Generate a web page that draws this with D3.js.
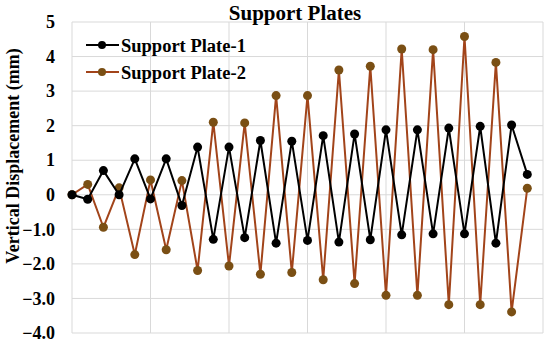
<!DOCTYPE html>
<html>
<head>
<meta charset="utf-8">
<script src="https://cdn.jsdelivr.net/npm/d3@7/dist/d3.min.js"></script>
<style>
  html, body { margin: 0; padding: 0; background: #fff; }
  svg { display: block; }
</style>
</head>
<body>
<svg id="chart" width="550" height="345"></svg>
<script>
// ---- data ----
const steps = d3.range(0, 30); // loading step index
const plate1 = [0, -0.13, 0.70, 0.0, 1.04, -0.12, 1.04, -0.31, 1.38, -1.29,
                1.38, -1.24, 1.57, -1.40, 1.55, -1.32, 1.71, -1.37, 1.76, -1.30,
                1.88, -1.16, 1.88, -1.13, 1.93, -1.13, 1.98, -1.40, 2.02, 0.59];
const plate2 = [0, 0.30, -0.94, 0.20, -1.73, 0.43, -1.59, 0.41, -2.19, 2.10,
                -2.06, 2.08, -2.30, 2.87, -2.25, 2.87, -2.46, 3.61, -2.57, 3.72,
                -2.91, 4.22, -2.91, 4.20, -3.18, 4.58, -3.18, 3.83, -3.39, 0.19];
const yTicks = [5, 4, 3, 2, 1, 0, -1, -2, -3, -4];
const yTickLabels = ["5", "4", "3", "2", "1", "0", "\u22121.0", "\u22122.0", "\u22123.0", "\u22124.0"];
const xGrid = [0, 5, 10, 15, 20, 25, 30];
const seriesNames = ["Support Plate-1", "Support Plate-2"];
const title = "Support Plates";
const yTitle = "Vertical Displacement (mm)";

const FONT = "'Liberation Serif', 'Times New Roman', Times, serif";

// ---- layout ----
const svg = d3.select("#chart");
const L = 72, R = 543, T = 22, B = 333;
const x = d3.scaleLinear().domain([0, 30]).range([L, R]);
const y = d3.scaleLinear().domain([-4, 5]).range([B, T]);

// grid
const grid = svg.append("g");
grid.selectAll("line.h").data(yTicks).join("line")
  .attr("x1", L).attr("x2", R)
  .attr("y1", d => y(d)).attr("y2", d => y(d))
  .attr("stroke", "#d9d9d9").attr("stroke-width", 1);
grid.selectAll("line.v").data(xGrid).join("line")
  .attr("y1", T).attr("y2", B)
  .attr("x1", d => x(d)).attr("x2", d => x(d))
  .attr("stroke", "#d9d9d9").attr("stroke-width", 1);

// y axis labels
const yAxis = d3.axisLeft(y).tickValues(yTicks)
  .tickFormat((d, i) => yTickLabels[i]).tickSize(0).tickPadding(17);
const ya = svg.append("g").attr("transform", `translate(${L},0)`).call(yAxis);
ya.attr("font-family", FONT).attr("font-size", 18).attr("font-weight", "bold");
ya.select(".domain").remove();
ya.selectAll("text").attr("fill", "#000");

// title
svg.append("text").attr("x", 295).attr("y", 19.5).attr("text-anchor", "middle")
  .attr("font-family", FONT).attr("font-weight", "bold")
  .attr("font-size", 21).text(title);

// y title
svg.append("text")
  .attr("transform", `translate(19, 156) rotate(-90)`)
  .attr("text-anchor", "middle")
  .attr("font-family", FONT).attr("font-weight", "bold")
  .attr("font-size", 18).text(yTitle);

// series
const colors = [{line: "#000000", dot: "#000000"}, {line: "#a2441a", dot: "#7a4f14"}];
const series = [plate1, plate2];
const lineGen = d3.line().x((d, i) => x(steps[i])).y(d => y(d));

[1, 0].forEach(si => {
  const g = svg.append("g");
  g.append("path").datum(series[si])
    .attr("d", lineGen).attr("fill", "none")
    .attr("stroke", colors[si].line).attr("stroke-width", 2).attr("stroke-linejoin", "round");
  g.selectAll("circle").data(series[si]).join("circle")
    .attr("cx", (d, i) => x(steps[i])).attr("cy", d => y(d))
    .attr("r", 4.5).attr("fill", colors[si].dot);
});

// legend
const lg = svg.append("g");
seriesNames.forEach((name, i) => {
  const yy = 45 + i * 27;
  lg.append("line").attr("x1", 86).attr("x2", 119).attr("y1", yy).attr("y2", yy)
    .attr("stroke", colors[i].line).attr("stroke-width", 2);
  lg.append("circle").attr("cx", 102).attr("cy", yy).attr("r", 4).attr("fill", colors[i].dot);
  lg.append("text").attr("x", 121).attr("y", yy + 7)
    .attr("font-family", FONT).attr("font-weight", "bold")
    .attr("font-size", 18.5).text(name);
});
</script>
</body>
</html>
